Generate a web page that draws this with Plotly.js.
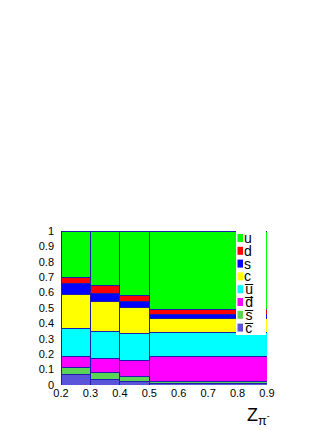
<!DOCTYPE html>
<html>
<head>
<meta charset="utf-8">
<script src="https://cdn.plot.ly/plotly-3.0.1.min.js"></script>
<style>
  html, body { margin: 0; padding: 0; background: #fff; }
  #myDiv { width: 332px; height: 430px; }
</style>
</head>
<body>
<div id="myDiv"></div>
<script>
// bins in z_pi
let binLow  = [0.2, 0.3, 0.4, 0.5]
let binHigh = [0.3, 0.4, 0.5, 0.9]

// flavour fractions per bin (stack order bottom -> top)
let cbarFrac = [0.065, 0.037, 0.026, 0.011]
let sbarFrac = [0.048, 0.043, 0.030, 0.015]
let dbarFrac = [0.075, 0.095, 0.104, 0.156]
let ubarFrac = [0.180, 0.173, 0.175, 0.160]
let cFrac    = [0.219, 0.197, 0.167, 0.087]
let sFrac    = [0.069, 0.050, 0.043, 0.028]
let dFrac    = [0.043, 0.050, 0.037, 0.034]
let uFrac    = [0.301, 0.355, 0.418, 0.509]

let names  = ["c\u0305", "s\u0305", "d\u0305", "u\u0305", "c", "s", "d", "u"]
let colors = ["#5954d9", "#59d454", "#ff00ff", "#00ffff", "#ffff00", "#0000ff", "#ff0000", "#00ff00"]
let fracs  = [cbarFrac, sbarFrac, dbarFrac, ubarFrac, cFrac, sFrac, dFrac, uFrac]

let centers = binLow.map((lo, i) => (lo + binHigh[i]) / 2)
let widths  = binLow.map((lo, i) => binHigh[i] - lo)

var data = []
for (let k = 0; k < fracs.length; k++){
	data.push({
		type: 'bar',
		x: centers,
		y: fracs[k],
		width: widths,
		name: names[k],
		marker: {color: colors[k], line: {color: 'rgb(30,30,170)', width: 1}},
		showlegend: false,
		hoverinfo: 'none'
	})
}

// hand drawn legend box (ROOT style)
let L = 61, R = 267, T = 231, B = 385
function px(x){ return (x - L) / (R - L) }
function py(y){ return (B - y) / (B - T) }

let shapes = [{
	type: 'rect', xref: 'paper', yref: 'paper',
	x0: px(236), x1: px(266), y0: py(335), y1: py(231),
	fillcolor: 'white', line: {width: 0}, layer: 'above'
}]
let annotations = []
for (let k = 0; k < names.length; k++){
	let row = names.length - 1 - k
	let yc = 238 + row * 12.8
	shapes.push({
		type: 'rect', xref: 'paper', yref: 'paper',
		x0: px(237.5), x1: px(243), y0: py(yc + 4), y1: py(yc - 4),
		fillcolor: colors[k], line: {width: 0}, layer: 'above'
	})
	annotations.push({
		xref: 'paper', yref: 'paper', x: px(243), y: py(yc),
		xanchor: 'left', yanchor: 'middle', showarrow: false, borderpad: 0,
		text: names[k], font: {size: 14, color: 'black'}
	})
}
annotations.push({
	xref: 'paper', yref: 'paper', x: px(272), y: py(403),
	xanchor: 'right', yanchor: 'top', showarrow: false,
	text: 'Z<sub>π<sup>-</sup></sub>', font: {size: 18, color: 'black'}
})

var layout = {
	width: 332, height: 430,
	margin: {l: L, r: 332 - R, t: T, b: 430 - B},
	paper_bgcolor: 'white', plot_bgcolor: 'white',
	font: {family: 'Liberation Sans, Arial, sans-serif', color: 'black'},
	barmode: 'stack', bargap: 0,
	showlegend: false,
	xaxis: {range: [0.2, 0.9], dtick: 0.1, tick0: 0.2, showgrid: false, zeroline: false,
		showline: false, ticks: '', tickfont: {size: 11}, fixedrange: true},
	yaxis: {range: [0, 1], dtick: 0.1, tick0: 0, showgrid: false, zeroline: false,
		showline: false, ticks: '', tickfont: {size: 11}, ticklabelstandoff: 6, fixedrange: true},
	shapes: shapes,
	annotations: annotations
}

Plotly.newPlot('myDiv', data, layout, {staticPlot: true})
</script>
</body>
</html>
